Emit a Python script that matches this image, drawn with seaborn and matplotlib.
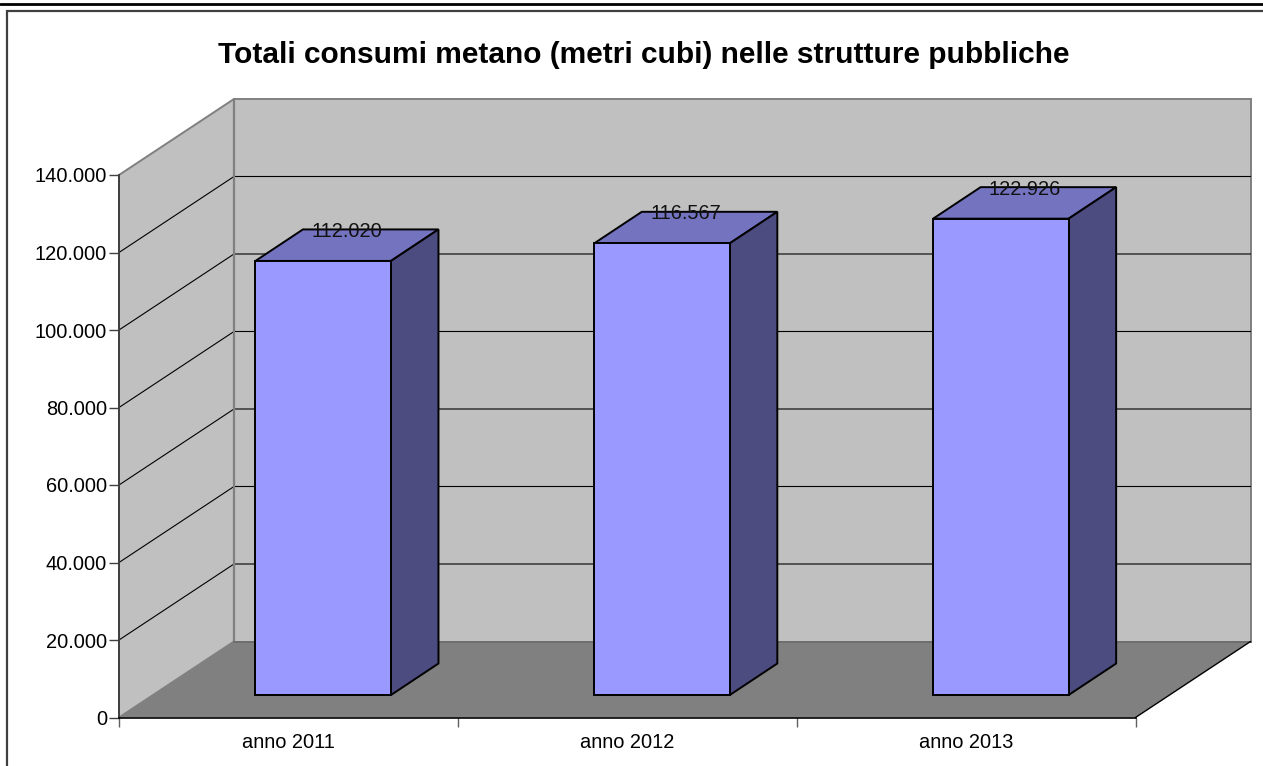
import matplotlib
matplotlib.use("Agg")
import matplotlib.pyplot as plt
from matplotlib.lines import Line2D
from matplotlib.patches import Polygon
from matplotlib.ticker import FuncFormatter
import pandas as pd
import seaborn as sns

# Chart data
years = ["anno 2011", "anno 2012", "anno 2013"]
consumi = [112020, 116567, 122926]
tick_values = [0, 20000, 40000, 60000, 80000, 100000, 120000, 140000]
title = "Totali consumi metano (metri cubi) nelle strutture pubbliche"

sns.set_theme(style="white")
plt.rcParams["font.family"] = ["Liberation Sans", "DejaVu Sans"]

W, H = 1263, 766
fig = plt.figure(figsize=(W / 100, H / 100), dpi=100, facecolor="white")

# Axes cover the front plane of the box
left, right, top, bottom = 119, 1135.5, 175, 717.5
ax = fig.add_axes([left / W, 1 - bottom / H, (right - left) / W, (bottom - top) / H])
ax.patch.set_visible(False)

df = pd.DataFrame({"anno": years, "consumi": consumi})
sns.barplot(data=df, x="anno", y="consumi", order=years, color="#9999FF", width=0.4,
            saturation=1, edgecolor="black", linewidth=1.4, ax=ax, zorder=5)

ax.set_xlim(-0.5, 2.5)
ax.set_ylim(0, 140000)
ax.set_xlabel("")
ax.set_ylabel("")

# Pixel sizes converted to data units
px_x = 3 / (right - left)
px_y = 140000 / (bottom - top)
box_dx, box_dy = 115 * px_x, 76 * px_y       # box depth
bar_off_x, bar_off_y = 34.8 * px_x, 22.5 * px_y  # bars stand inside the box
bar_dx, bar_dy = 47.5 * px_x, 31.5 * px_y    # bar depth

x0, x1 = -0.5, 2.5
ymax = 140000


def poly(points, face, edge="none", lw=0.0, z=1):
    ax.add_patch(Polygon(points, closed=True, facecolor=face, edgecolor=edge,
                         linewidth=lw, zorder=z, clip_on=False, joinstyle="miter"))


# Back wall, side wall and floor
poly([(x0 + box_dx, box_dy), (x1 + box_dx, box_dy), (x1 + box_dx, ymax + box_dy),
      (x0 + box_dx, ymax + box_dy)], "#C0C0C0", "#808080", 1.4, 1)
poly([(x0, 0), (x0 + box_dx, box_dy), (x0 + box_dx, ymax + box_dy), (x0, ymax)],
     "#C0C0C0", "#808080", 1.4, 1)
poly([(x0, 0), (x1, 0), (x1 + box_dx, box_dy), (x0 + box_dx, box_dy)], "#808080", z=2)

# Gridlines running along the side wall and the back wall
for v in tick_values[1:-1]:
    ax.plot([x0, x0 + box_dx, x1 + box_dx], [v, v + box_dy, v + box_dy], color="black",
            lw=0.8, zorder=2, clip_on=False, solid_joinstyle="miter")
ax.plot([x0 + box_dx, x1 + box_dx], [box_dy, box_dy], color="#6E6E6E", lw=1.4,
        zorder=3, clip_on=False)
ax.plot([x1, x1 + box_dx], [0, box_dy], color="black", lw=1.0, zorder=3, clip_on=False)
ax.plot([x0 + box_dx, x0 + box_dx], [box_dy, ymax + box_dy], color="#808080", lw=1.6,
        zorder=2, clip_on=False)

# Move the bars into the box, then add their top and side faces and the value labels
for patch, value in zip(ax.patches[:3], consumi):
    a = patch.get_x() + bar_off_x
    b = a + patch.get_width()
    patch.set_x(a)
    patch.set_y(bar_off_y)
    patch.set_clip_on(False)
    patch.set_joinstyle("miter")
    low, high = bar_off_y, bar_off_y + value
    poly([(a, high), (b, high), (b + bar_dx, high + bar_dy), (a + bar_dx, high + bar_dy)],
         "#7373BF", "black", 1.4, 4)
    poly([(b, low), (b + bar_dx, low + bar_dy), (b + bar_dx, high + bar_dy), (b, high)],
         "#4C4C80", "black", 1.4, 4)
    ax.text((a + b) / 2 + bar_dx / 2, high + bar_dy - 2 * px_y, f"{value:,}".replace(",", "."),
            ha="center", va="center", fontsize=14.4, color="#111111", zorder=6)

# Axes furniture
sns.despine(ax=ax, top=True, right=True)
ax.spines["left"].set_color("#404040")
ax.spines["left"].set_linewidth(1.4)
ax.spines["left"].set_zorder(6)
ax.spines["bottom"].set_color("black")
ax.spines["bottom"].set_linewidth(1.2)
ax.spines["bottom"].set_zorder(6)

ax.set_yticks(tick_values)
ax.yaxis.set_major_formatter(FuncFormatter(lambda v, _: f"{int(v):,}".replace(",", ".")))
ax.tick_params(axis="y", left=True, length=7.2, width=1.0, color="#404040", pad=1.5,
               labelsize=14.4, labelcolor="black")
ax.set_xticks([0, 1, 2], years)
ax.set_xticks([-0.5, 0.5, 1.5, 2.5], minor=True)
ax.tick_params(axis="x", which="major", bottom=False, pad=4.8, labelsize=14.4, labelcolor="black")
ax.tick_params(axis="x", which="minor", bottom=True, length=6.5, width=1.0, color="#606060")

fig.text(644 / W, 1 - 55 / H, title, ha="center", va="center", fontsize=21.5,
         fontweight="bold", color="black")

# Page rule and chart frame
fig.add_artist(Line2D([0, 1], [1 - 4 / H, 1 - 4 / H], color="black", lw=2.0))
fig.add_artist(Line2D([7 / W, 7 / W, 1], [0, 1 - 10.5 / H, 1 - 10.5 / H], color="#404040",
                      lw=1.6, solid_joinstyle="miter"))

fig.savefig("out.png", dpi=100)
